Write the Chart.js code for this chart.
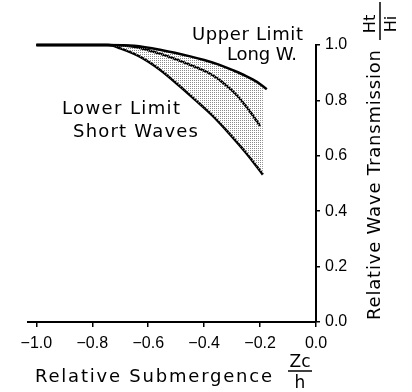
<!DOCTYPE html>
<html>
<head>
<meta charset="utf-8">
<script src="https://cdn.jsdelivr.net/npm/chart.js@4.4.0/dist/chart.umd.min.js"></script>
<style>
  html, body { margin: 0; padding: 0; background: #fff; }
  canvas { display: block; }
</style>
</head>
<body>
<canvas id="chart" width="412" height="392"></canvas>
<script>
// tick positions on both axes
const xTicks = [-1.0, -0.8, -0.6, -0.4, -0.2, 0.0];
const yTicks = [0.0, 0.2, 0.4, 0.6, 0.8, 1.0];

// upper limit (long waves)
const upperX = [-1.0, -0.75, -0.65, -0.55, -0.45, -0.40, -0.35, -0.30, -0.25, -0.21, -0.176];
const upperY = [1.0, 1.0, 0.997, 0.981, 0.959, 0.946, 0.930, 0.910, 0.888, 0.866, 0.840];

// middle curve
const midX = [-1.0, -0.75, -0.65, -0.55, -0.45, -0.38, -0.33, -0.28, -0.24, -0.20];
const midY = [1.0, 1.0, 0.994, 0.966, 0.928, 0.897, 0.862, 0.815, 0.765, 0.708];

// lower limit (short waves)
const lowX = [-1.0, -0.74, -0.70, -0.63, -0.557, -0.486, -0.43, -0.37, -0.31, -0.25, -0.19];
const lowY = [1.0, 1.0, 0.988, 0.958, 0.910, 0.850, 0.800, 0.745, 0.680, 0.610, 0.532];

function toPoints(xs, ys) {
	return xs.map((x, i) => ({x: x, y: ys[i]}));
}

function fmt(v) {
	return v.toFixed(1).replace('-', '\u2212');
}

// stipple pattern for the band between the limits
function makeDots() {
	let c = document.createElement('canvas');
	c.width = 2;
	c.height = 2;
	let g = c.getContext('2d');
	g.fillStyle = '#8a8a8a';
	g.fillRect(0, 0, 1, 1);
	return g.createPattern(c, 'repeat');
}

//Draws text stretched with letter spacing so it spans a given width.
function spaced(ctx, text, x, y, width) {
	ctx.letterSpacing = '0px';
	let w = ctx.measureText(text).width;
	let s = (width - w) / (text.length - 1);
	ctx.letterSpacing = s + 'px';
	ctx.textAlign = 'left';
	ctx.fillText(text, x, y);
	ctx.letterSpacing = '0px';
}

const textPlugin = {
	id: 'texts',
	afterDraw(chart) {
		let ctx = chart.ctx;
		ctx.save();
		ctx.fillStyle = '#000';
		ctx.strokeStyle = '#000';
		ctx.textBaseline = 'alphabetic';
		ctx.font = '18px "DejaVu Sans", sans-serif';

		spaced(ctx, 'Upper Limit', 192, 40, 111);
		spaced(ctx, 'Long W.', 227, 60, 70);
		spaced(ctx, 'Lower Limit', 62, 114, 118);
		spaced(ctx, 'Short Waves', 73, 137, 125);

		// x axis title
		spaced(ctx, 'Relative Submergence', 35, 382, 237);
		ctx.font = '17px "DejaVu Sans", sans-serif';
		ctx.textAlign = 'center';
		ctx.fillText('Zc', 300, 367);
		ctx.lineWidth = 1.5;
		ctx.beginPath();
		ctx.moveTo(288, 371);
		ctx.lineTo(312, 371);
		ctx.stroke();
		ctx.fillText('h', 300, 388);

		// y axis title, reading upwards
		ctx.save();
		ctx.translate(380, 320);
		ctx.rotate(-Math.PI / 2);
		ctx.font = '18px "DejaVu Sans", sans-serif';
		spaced(ctx, 'Relative Wave Transmission', 0, 0, 270);
		ctx.restore();

		ctx.save();
		ctx.translate(380, 24);
		ctx.rotate(-Math.PI / 2);
		ctx.font = '16px "DejaVu Sans", sans-serif';
		ctx.textAlign = 'center';
		ctx.textBaseline = 'alphabetic';
		ctx.fillText('Ht', 0, -5);
		ctx.beginPath();
		ctx.moveTo(-16, 0);
		ctx.lineTo(22, 0);
		ctx.stroke();
		ctx.textBaseline = 'top';
		ctx.fillText('Hi', 0, 4);
		ctx.restore();

		ctx.restore();
	}
};

const tickFont = {family: '"Liberation Sans", Arial, sans-serif', size: 16};

var ctx = document.getElementById('chart').getContext('2d');
var myChart = new Chart(ctx, {
	type: 'line',
	data: {
		datasets: [
			{
				data: toPoints(upperX, upperY),
				borderColor: '#000',
				borderWidth: 2.5,
				backgroundColor: makeDots(),
				fill: 2,
				pointRadius: 0,
				cubicInterpolationMode: 'monotone',
				clip: false
			},
			{
				data: toPoints(midX, midY),
				borderColor: '#000',
				borderWidth: 2.5,
				fill: false,
				pointRadius: 0,
				cubicInterpolationMode: 'monotone',
				clip: false
			},
			{
				data: toPoints(lowX, lowY),
				borderColor: '#000',
				borderWidth: 2.5,
				fill: false,
				pointRadius: 0,
				cubicInterpolationMode: 'monotone',
				clip: false
			}
		]
	},
	options: {
		responsive: false,
		animation: false,
		devicePixelRatio: 1,
		layout: {padding: {top: 45, left: 28, right: 0, bottom: 0}},
		plugins: {legend: {display: false}, tooltip: {enabled: false}},
		scales: {
			x: {
				type: 'linear',
				position: 'bottom',
				min: -1.03,
				max: 0,
				afterBuildTicks: s => { s.ticks = xTicks.map(v => ({value: v})); },
				afterFit: s => { s.height = 70; },
				ticks: {callback: fmt, font: tickFont, color: '#000', maxRotation: 0, autoSkip: false, padding: 7},
				grid: {drawOnChartArea: false, tickLength: 5, color: '#000', lineWidth: 1.5},
				border: {color: '#000', width: 2}
			},
			y: {
				type: 'linear',
				position: 'right',
				min: 0,
				max: 1.0,
				afterBuildTicks: s => { s.ticks = yTicks.map(v => ({value: v})); },
				afterFit: s => { s.width = 96; },
				ticks: {callback: fmt, font: tickFont, color: '#000', autoSkip: false, padding: 5},
				grid: {drawOnChartArea: false, tickLength: 4, color: '#000', lineWidth: 1.5},
				border: {color: '#000', width: 2}
			}
		}
	},
	plugins: [textPlugin]
});
</script>
</body>
</html>
